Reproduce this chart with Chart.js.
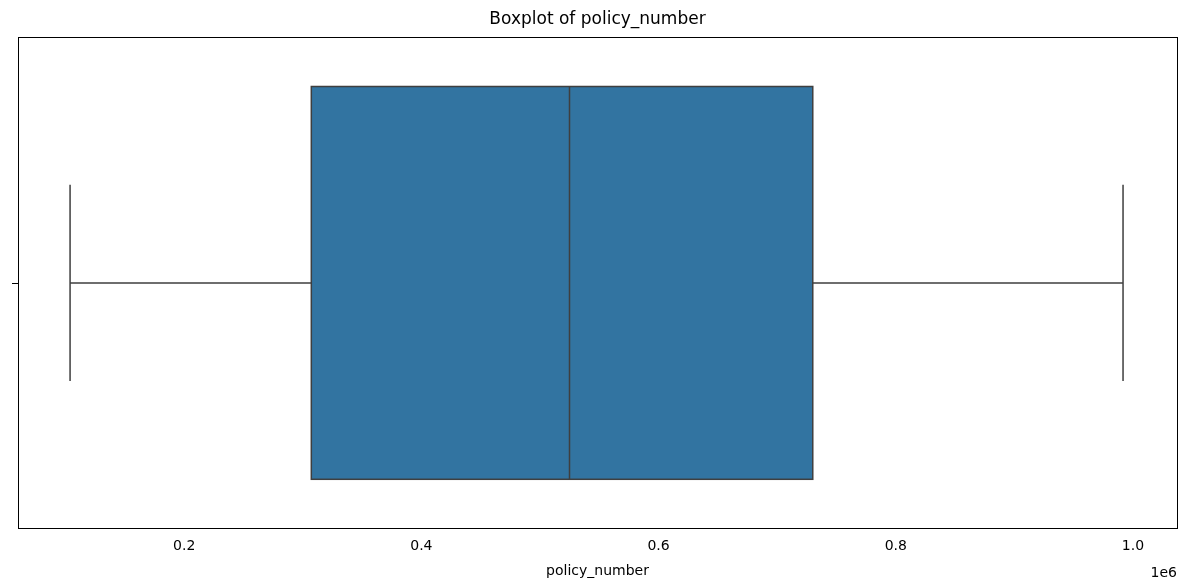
<!DOCTYPE html>
<html><head><meta charset="utf-8">
<script src="https://cdn.jsdelivr.net/npm/chart.js@4"></script>
<style>html,body{margin:0;background:#fff}#w{width:1187px;height:588px}</style>
</head><body><div id="w"><canvas id="c"></canvas></div>
<script>
const category = ['policy_number'];
const whiskerLow = [103800];
const q1 = [307200];
const median = [524900];
const q3 = [730000];
const whiskerHigh = [991600];
const xTicks = [200000, 400000, 600000, 800000, 1000000];
const xMin = 59900, xMax = 1037100;

const boxPlugin = {
  id: 'box',
  afterDatasetsDraw(chart) {
    const {ctx, chartArea: a, scales: {x, y}} = chart;
    ctx.save();
    const i = 0;
    const yc = y.getPixelForValue(0), yt = y.getPixelForValue(0.4), yb = y.getPixelForValue(-0.4);
    const ct = y.getPixelForValue(0.2), cb = y.getPixelForValue(-0.2);
    const px = v => x.getPixelForValue(v);
    ctx.fillStyle = '#3274a1';
    ctx.fillRect(px(q1[i]), yt, px(q3[i]) - px(q1[i]), yb - yt);
    ctx.strokeStyle = '#3f3f3f'; ctx.lineWidth = 1.5;
    ctx.strokeRect(px(q1[i]), yt, px(q3[i]) - px(q1[i]), yb - yt);
    ctx.beginPath();
    ctx.moveTo(px(median[i]), yt); ctx.lineTo(px(median[i]), yb);
    ctx.moveTo(px(whiskerLow[i]), yc); ctx.lineTo(px(q1[i]), yc);
    ctx.moveTo(px(q3[i]), yc); ctx.lineTo(px(whiskerHigh[i]), yc);
    ctx.moveTo(px(whiskerLow[i]), ct); ctx.lineTo(px(whiskerLow[i]), cb);
    ctx.moveTo(px(whiskerHigh[i]), ct); ctx.lineTo(px(whiskerHigh[i]), cb);
    ctx.stroke();
    // frame
    ctx.strokeStyle = '#000'; ctx.lineWidth = 1;
    ctx.strokeRect(Math.round(a.left) + 0.5, Math.round(a.top) + 0.5, Math.round(a.right - a.left), Math.round(a.bottom - a.top));
    // y tick
    ctx.beginPath(); ctx.moveTo(a.left - 6, Math.round(yc) + 0.5); ctx.lineTo(a.left, Math.round(yc) + 0.5); ctx.stroke();
    // offset text
    ctx.fillStyle = '#000'; ctx.font = '14px "DejaVu Sans"'; ctx.textAlign = 'right'; ctx.textBaseline = 'top';
    ctx.fillText('1e6', a.right, a.bottom + 38);
    ctx.restore();
  }
};

new Chart(document.getElementById('c'), {
  type: 'scatter',
  data: { datasets: [{ label: category[0], data: [], showLine: false }] },
  options: {
    responsive: true, maintainAspectRatio: false, animation: false,
    layout: { padding: { left: 18, right: 10, top: 0, bottom: 4 } },
    plugins: {
      legend: { display: false }, tooltip: { enabled: false },
      title: { display: true, text: 'Boxplot of ' + category[0], color: '#000',
        font: { family: 'DejaVu Sans', size: 17, weight: 'normal' }, padding: { top: 9, bottom: 8 } }
    },
    scales: {
      x: { type: 'linear', min: xMin, max: xMax,
        afterBuildTicks: s => { s.ticks = xTicks.map(v => ({ value: v })); },
        grid: { display: false, drawTicks: true, tickLength: 6, tickColor: '#000' },
        border: { color: '#000' },
        ticks: { color: '#000', font: { family: 'DejaVu Sans', size: 14 }, padding: 4,
          callback: v => (v / 1e6).toFixed(1), maxRotation: 0 },
        title: { display: true, text: category[0], color: '#000', font: { family: 'DejaVu Sans', size: 14 }, padding: { top: 4 } }
      },
      y: { type: 'linear', min: -0.5, max: 0.5, display: false }
    }
  },
  plugins: [boxPlugin]
});
</script></body></html>
